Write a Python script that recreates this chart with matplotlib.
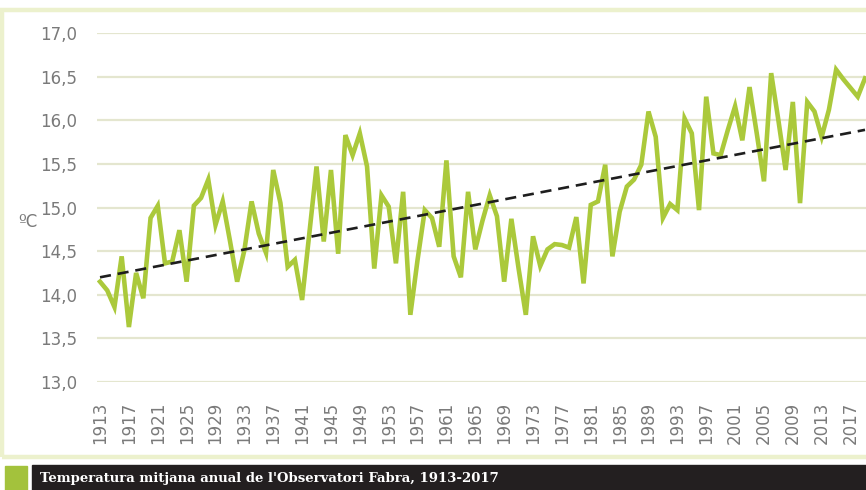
import matplotlib
matplotlib.use("Agg")
import matplotlib.pyplot as plt
from matplotlib.patches import Rectangle

# ---- data ----
years = list(range(1913, 2020))
temps = [
    14.15, 14.05, 13.86, 14.44, 13.63, 14.25, 13.96, 14.88, 15.02, 14.36,  # 1913-1922
    14.38, 14.74, 14.15, 15.02, 15.11, 15.32, 14.80, 15.07, 14.62, 14.15,  # 1923-1932
    14.51, 15.07, 14.70, 14.48, 15.43, 15.05, 14.32, 14.40, 13.94, 14.70,  # 1933-1942
    15.47, 14.61, 15.43, 14.47, 15.83, 15.60, 15.85, 15.47, 14.30, 15.14,  # 1943-1952
    15.01, 14.36, 15.18, 13.77, 14.40, 14.97, 14.88, 14.55, 15.54, 14.44,  # 1953-1962
    14.20, 15.18, 14.52, 14.85, 15.14, 14.90, 14.15, 14.87, 14.30, 13.77,  # 1963-1972
    14.67, 14.33, 14.52, 14.58, 14.57, 14.54, 14.89, 14.13, 15.03, 15.07,  # 1973-1982
    15.49, 14.44, 14.95, 15.24, 15.32, 15.49, 16.10, 15.81, 14.88, 15.04,  # 1983-1992
    14.97, 16.02, 15.85, 14.97, 16.27, 15.62, 15.60, 15.89, 16.16, 15.77,  # 1993-2002
    16.38, 15.85, 15.30, 16.54, 16.00, 15.43, 16.21, 15.05, 16.21, 16.10,  # 2003-2012
    15.81, 16.12, 16.58, 16.47, 16.37, 16.27, 16.48,                       # 2013-2019
]
trend_years = [1913, 2019]
trend_vals = [14.20, 15.89]

yticks = [13.0, 13.5, 14.0, 14.5, 15.0, 15.5, 16.0, 16.5, 17.0]
ytick_labels = ["13,0", "13,5", "14,0", "14,5", "15,0", "15,5", "16,0", "16,5", "17,0"]
xtick_years = list(range(1913, 2018, 4))
unit_label = "ºC"
caption = "Temperatura mitjana anual de l'Observatori Fabra, 1913-2017"

# ---- figure ----
W, H = 866, 490
fig = plt.figure(figsize=(W / 100, H / 100), dpi=100)
fig.patch.set_facecolor("white")

def fx(px):
    return px / W

def fy(py):
    return 1 - py / H

# pale frame
fig.patches.append(Rectangle((fx(2), fy(457)), fx(880) - fx(2), fy(10) - fy(457),
                             transform=fig.transFigure, fill=False,
                             edgecolor="#ecf1cd", linewidth=3.2, zorder=0))

ax = fig.add_axes([fx(97), fy(382), 1 - fx(97), fy(33) - fy(382)])
ax.set_facecolor("white")
ax.set_xlim(1912.58, 2019.14)
ax.set_ylim(13.0, 17.0)

for v in yticks:
    ax.axhline(v, color="#e4e6cf", linewidth=1.6, zorder=1)

ax.plot(years, temps, color="#abc93b", linewidth=3.3, solid_joinstyle="miter",
        zorder=3, clip_on=True)
ax.plot(trend_years, trend_vals, color="#1e1e1e", linewidth=1.9,
        linestyle=(0, (4.2, 2.6)), zorder=4)

for s in ax.spines.values():
    s.set_visible(False)

ax.set_yticks(yticks)
ax.set_yticklabels(ytick_labels, fontsize=12, color="#7a7a7a")
ax.set_xticks(xtick_years)
ax.set_xticklabels([str(y) for y in xtick_years], rotation=90, fontsize=12,
                   color="#7a7a7a")
ax.tick_params(axis="both", length=0)
ax.tick_params(axis="y", pad=14)
ax.tick_params(axis="x", pad=14)

fig.text(fx(28), fy(222), unit_label, fontsize=12, color="#7a7a7a",
         ha="center", va="center")

# caption bar
fig.patches.append(Rectangle((fx(5), 0), fx(27) - fx(5), fy(466),
                             transform=fig.transFigure, color="#a3c23c", zorder=2))
fig.patches.append(Rectangle((fx(32), 0), 1 - fx(32), fy(465),
                             transform=fig.transFigure, color="#231f20", zorder=2))
fig.text(fx(40), fy(478), caption, fontsize=9.5, color="white",
         family="DejaVu Serif", weight="bold", ha="left", va="center", zorder=3)

fig.savefig("out.png", dpi=100)
